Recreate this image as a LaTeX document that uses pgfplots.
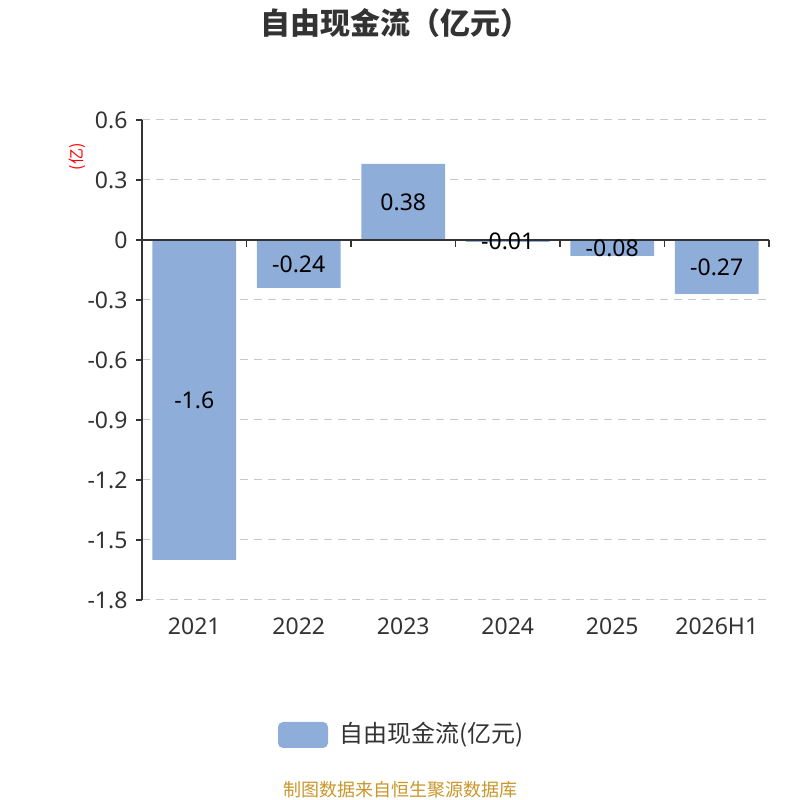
\documentclass[border=0pt]{standalone}
\usepackage{pgfplots}
\pgfplotsset{compat=1.18}
\usepackage{pgfplotstable}
\usepackage{fontspec}
\setmainfont{Noto Sans}
\newfontfamily\cjk{Noto Sans CJK SC}
\definecolor{barc}{RGB}{142,173,217}
\definecolor{txt}{RGB}{51,51,51}
\definecolor{gridc}{RGB}{200,200,200}
\definecolor{src}{RGB}{200,150,42}
\pgfplotstableread{
x y half lab
0 -1.60 -0.800 -1.6
1 -0.24 -0.120 -0.24
2 0.38 0.190 0.38
3 -0.01 -0.005 -0.01
4 -0.08 -0.040 -0.08
5 -0.27 -0.135 -0.27
}\datatab
\begin{document}
\begin{tikzpicture}
\path[use as bounding box] (0pt,0pt) rectangle (800pt,800pt);
\begin{axis}[
  at={(142pt,200pt)}, anchor=south west,
  scale only axis, width=627pt, height=480pt,
  xmin=-0.5, xmax=5.5, ymin=-1.8, ymax=0.6,
  axis x line*=bottom, axis y line*=left,
  x axis line style={draw=none},
  y axis line style={draw=txt, line width=1.2pt},
  xtick={0,1,2,3,4,5},
  xticklabels={2021,2022,2023,2024,2025,2026H1},
  x tick label style={font=\fontsize{23}{27}\selectfont, text=txt, yshift=-8pt},
  xtick style={draw=none},
  ytick={-1.8,-1.5,-1.2,-0.9,-0.6,-0.3,0,0.3,0.6},
  yticklabels={-1.8,-1.5,-1.2,-0.9,-0.6,-0.3,0,0.3,0.6},
  y tick label style={font=\fontsize{23}{27}\selectfont, text=txt, xshift=-5pt},
  ytick style={draw=txt, line width=1.2pt},
  tick align=outside, major tick length=6pt,
  ymajorgrids, grid style={gridc, dashed, dash pattern=on 8pt off 6pt, line width=1pt},
  clip=false,
]
\addplot[ybar, bar width=0.8, fill=barc, draw=none] table[x=x,y=y]{\datatab};
\draw[txt, line width=1.2pt] (axis cs:-0.5,0) -- (axis cs:5.5,0);
\draw[txt, line width=1.2pt] (axis cs:0.5,0) -- ([yshift=-7pt]axis cs:0.5,0);
\draw[txt, line width=1.2pt] (axis cs:1.5,0) -- ([yshift=-7pt]axis cs:1.5,0);
\draw[txt, line width=1.2pt] (axis cs:2.5,0) -- ([yshift=-7pt]axis cs:2.5,0);
\draw[txt, line width=1.2pt] (axis cs:3.5,0) -- ([yshift=-7pt]axis cs:3.5,0);
\draw[txt, line width=1.2pt] (axis cs:4.5,0) -- ([yshift=-7pt]axis cs:4.5,0);
\draw[txt, line width=1.2pt] (axis cs:5.5,0) -- ([yshift=-7pt]axis cs:5.5,0);
\addplot[draw=none, mark=none, nodes near coords, point meta=explicit symbolic,
  every node near coord/.append style={anchor=center, font=\fontsize{23}{27}\selectfont, text=black}]
  table[x=x,y=half,meta=lab]{\datatab};
\end{axis}
\node[font=\fontsize{30}{34}\selectfont\cjk\bfseries, text=txt] at (395pt,777pt) {自由现金流（亿元）};
\node[font=\fontsize{16}{18}\selectfont\cjk, text=red, rotate=90] at (77pt,643pt) {(亿)};
\fill[barc, rounded corners=5pt] (278pt,52pt) rectangle (328pt,78pt);
\node[font=\fontsize{24}{28}\selectfont\cjk, text=txt, anchor=west] at (336pt,65pt) {自由现金流(亿元)};
\node[font=\fontsize{18}{21}\selectfont\cjk, text=src] at (400pt,10pt) {制图数据来自恒生聚源数据库};
\end{tikzpicture}
\end{document}
